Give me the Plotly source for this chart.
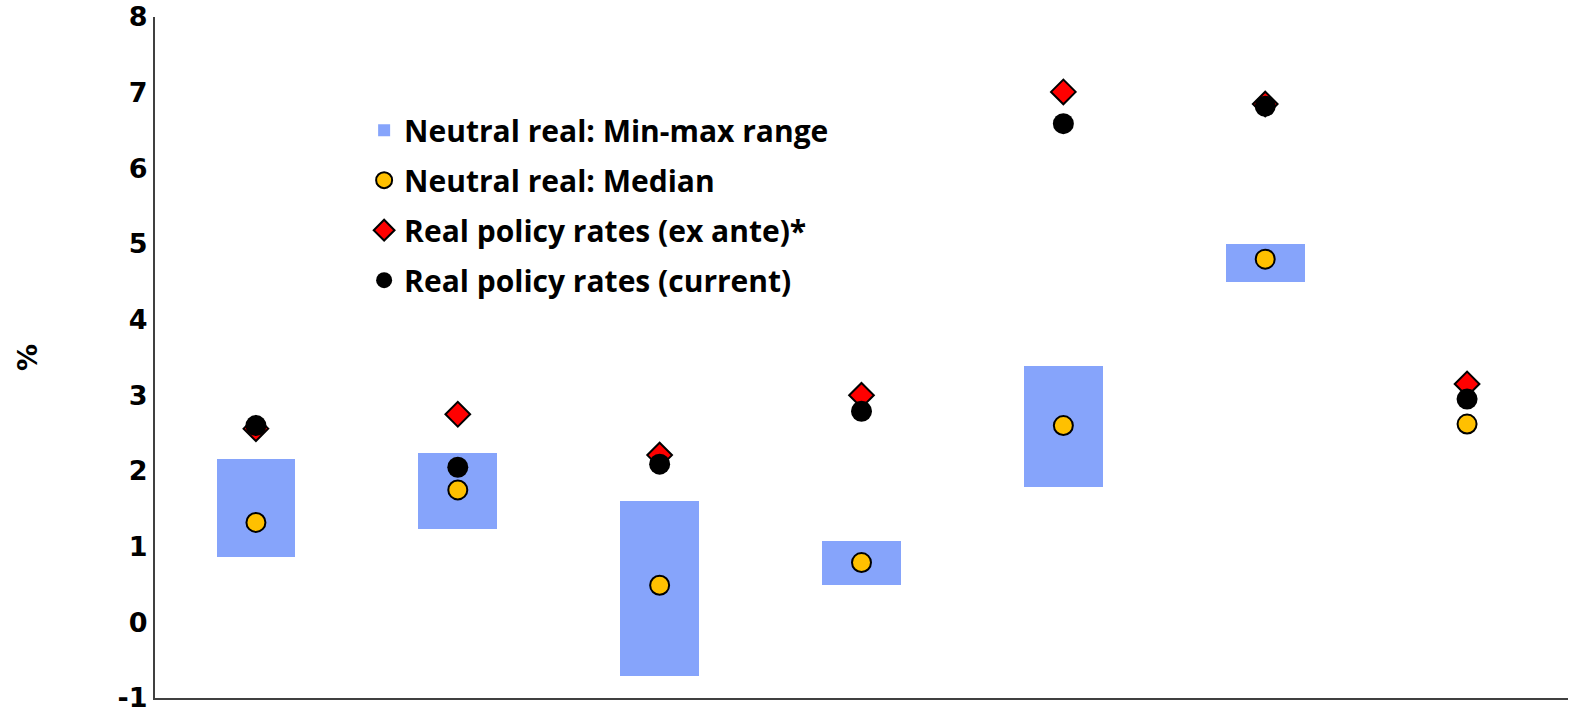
import plotly.graph_objects as go

# Seven economies, left to right (positions on the category axis)
positions = [0, 1, 2, 3, 4, 5, 6]

# Neutral real rate estimates, %
neutral_min = [0.87, 1.24, -0.71, 0.49, 1.79, 4.50, None]
neutral_max = [2.16, 2.24, 1.60, 1.08, 3.39, 5.00, None]
neutral_median = [1.32, 1.75, 0.49, 0.79, 2.60, 4.80, 2.62]

# Real policy rates, %
real_ex_ante = [2.56, 2.75, 2.21, 3.00, 7.01, 6.85, 3.15]
real_current = [2.60, 2.05, 2.09, 2.79, 6.59, 6.82, 2.95]

y_ticks = [-1, 0, 1, 2, 3, 4, 5, 6, 7, 8]
y_tick_labels = ["-1", "0", "1", "2", "3", "4", "5", "6", "7", "8"]

range_height = [
    (hi - lo) if (hi is not None and lo is not None) else None
    for lo, hi in zip(neutral_min, neutral_max)
]

fig = go.Figure()

fig.add_trace(go.Bar(
    x=positions, y=range_height, base=neutral_min, width=0.39,
    marker=dict(color="#86A4FB", line=dict(width=0)),
    name="Neutral real: Min-max range", legendgroup="a",
))
fig.add_trace(go.Scatter(
    x=positions, y=neutral_median, mode="markers",
    marker=dict(symbol="circle", size=19, color="#FFC000",
                line=dict(color="black", width=2)),
    name="Neutral real: Median", legendgroup="b",
))
fig.add_trace(go.Scatter(
    x=positions, y=real_ex_ante, mode="markers",
    marker=dict(symbol="diamond", size=19, color="#FF0000",
                line=dict(color="black", width=2)),
    name="Real policy rates (ex ante)*", legendgroup="c",
))
fig.add_trace(go.Scatter(
    x=positions, y=real_current, mode="markers",
    marker=dict(symbol="circle", size=21, color="black",
                line=dict(color="black", width=0)),
    name="Real policy rates (current)", legendgroup="d",
))

fig.update_layout(
    width=1570, height=716,
    margin=dict(l=155, r=2, t=17, b=18),
    paper_bgcolor="white", plot_bgcolor="white",
    showlegend=True,
    legend=dict(
        x=0.148, y=0.872, xanchor="left", yanchor="top",
        font=dict(family="Open Sans", size=30, color="black", weight="bold"),
        bgcolor="rgba(0,0,0,0)", tracegroupgap=8,
        itemsizing="trace",
    ),
    xaxis=dict(
        range=[-0.5, 6.5], showticklabels=False, ticks="",
        showgrid=False, zeroline=False,
        showline=True, linecolor="#404040", linewidth=2,
    ),
    yaxis=dict(
        range=[-1, 8], tickvals=y_ticks, ticktext=y_tick_labels,
        tickfont=dict(family="DejaVu Sans", size=27, color="black", weight="bold"),
        ticks="", ticklen=0, showgrid=False, zeroline=False,
        showline=True, linecolor="#404040", linewidth=2,
        title=dict(text="%", standoff=72,
                   font=dict(family="DejaVu Sans", size=27, color="black", weight="bold")),
    ),
    bargap=0,
)

fig.write_html("out.html")
